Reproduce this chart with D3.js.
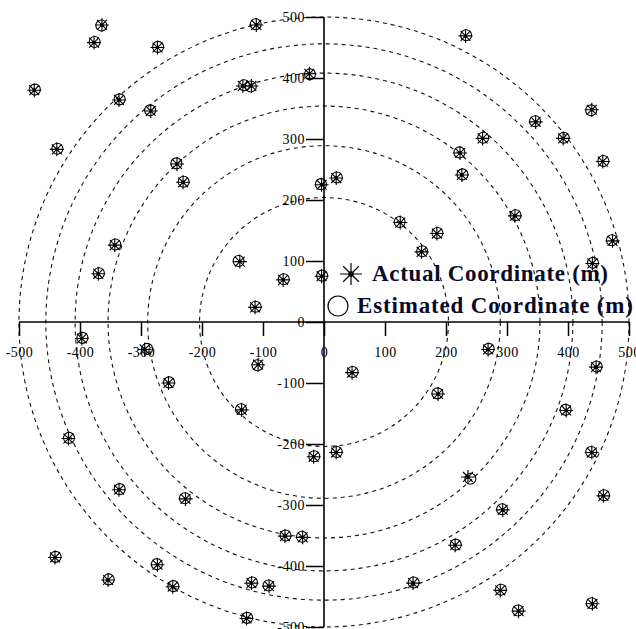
<!DOCTYPE html>
<html>
<head>
<meta charset="utf-8">
<script src="https://cdn.jsdelivr.net/npm/d3@7"></script>
<style>
  html, body { margin: 0; padding: 0; background: #fff; }
  svg { display: block; }
</style>
</head>
<body>
<svg id="chart" width="636" height="629"></svg>
<script>
// ---- data (metres) ----
const actualX = [-475,-364,-377,-273,-111,-336,-284,-438,-133,-119,-24,-241,-231,-4,-343,-370,-138,-67,-113,-4,
                 232,260,223,226,347,392,439,457,473,313,20,125,185,160,440,
                 -397,-294,-108,-255,-135,-419,-17,-336,-227,-64,-35,-441,-354,-273,-248,-119,-90,-127,
                 46,269,187,397,446,20,439,458,236,293,215,146,289,319,440];
const actualY = [380,487,458,450,487,364,346,283,387,387,407,259,229,225,126,79,99,69,24,75,
                 469,301,277,241,328,301,348,263,133,174,236,163,145,115,96,
                 -27,-45,-70,-100,-144,-191,-221,-275,-290,-351,-353,-386,-423,-398,-434,-428,-433,-486,
                 -83,-45,-118,-145,-74,-214,-214,-285,-254,-308,-366,-428,-440,-474,-462];
const estX    = [-474,-365,-376,-272,-112,-335,-285,-437,-131,-120,-23,-242,-230,-5,-342,-369,-140,-66,-112,-3,
                 233,261,222,227,346,393,438,458,472,314,21,124,186,161,441,
                 -396,-290,-109,-254,-136,-418,-16,-335,-228,-63,-36,-440,-353,-274,-247,-118,-91,-126,
                 47,270,186,396,447,21,438,459,240,292,216,147,290,318,439];
const estY    = [381,486,459,451,488,365,347,284,388,386,406,260,230,226,127,80,100,70,25,76,
                 470,302,278,242,329,302,347,264,134,175,237,164,146,116,97,
                 -26,-44,-71,-99,-143,-190,-220,-274,-289,-350,-352,-385,-422,-397,-433,-427,-432,-485,
                 -82,-44,-117,-144,-73,-213,-213,-284,-257,-307,-365,-427,-439,-473,-461];
const ringRadii = [204, 289, 354, 408, 456, 500];
const majorTicks = [-500,-400,-300,-200,-100,0,100,200,300,400,500];
const minorTicks = [-450,-350,-250,-150,-50,50,150,250,350,450];
const legendLabels = ["Actual Coordinate (m)", "Estimated Coordinate (m)"];

// ---- layout ----
const svg = d3.select("#chart");
const x = d3.scaleLinear().domain([-500, 500]).range([19, 629]);
const y = d3.scaleLinear().domain([-500, 500]).range([627, 17]);
const k = (x(100) - x(0)) / 100; // px per metre
const cx = x(0), cy = y(0);
const serif = "'Liberation Serif', 'Times New Roman', serif";

// rings
svg.append("g").selectAll("circle").data(ringRadii).join("circle")
  .attr("cx", cx).attr("cy", cy).attr("r", d => d * k)
  .attr("fill", "none").attr("stroke", "#111").attr("stroke-width", 1.1)
  .attr("stroke-dasharray", "4,4");

// x axis (ticks below)
const gx = svg.append("g").attr("transform", `translate(0,${cy})`);
gx.call(d3.axisBottom(x).tickValues(minorTicks).tickSize(9).tickFormat(""));
gx.call(d3.axisBottom(x).tickValues(majorTicks).tickSize(14).tickPadding(11)
  .tickFormat(d => d));
gx.select(".domain").attr("stroke", "#000").attr("stroke-width", 1.6).attr("d", `M${x(-500)},0H${x(500)}`);
gx.selectAll(".tick line").attr("stroke", "#000").attr("stroke-width", 1.5);
gx.selectAll(".tick text").attr("font-family", serif).attr("font-size", 14).attr("fill", "#000")
  .attr("letter-spacing", 0.5);

// y axis (ticks to left)
const gy = svg.append("g").attr("transform", `translate(${cx},0)`);
gy.call(d3.axisLeft(y).tickValues(minorTicks).tickSize(10).tickFormat(""));
gy.call(d3.axisLeft(y).tickValues(majorTicks).tickSize(18).tickPadding(1)
  .tickFormat(d => d));
gy.select(".domain").attr("stroke", "#000").attr("stroke-width", 1.6).attr("d", `M0,${y(500)}V${y(-500)}`);
gy.selectAll(".tick line").attr("stroke", "#000").attr("stroke-width", 1.5);
gy.selectAll(".tick text").attr("font-family", serif).attr("font-size", 14).attr("fill", "#000")
  .attr("letter-spacing", 0.5);

// markers
function asterisk(g, px, py, h, sw) {
  const a = h * Math.SQRT1_2;
  const p = `M${px-h},${py}H${px+h}M${px},${py-h}V${py+h}M${px-a},${py-a}L${px+a},${py+a}M${px-a},${py+a}L${px+a},${py-a}`;
  g.append("path").attr("d", p).attr("stroke", "#000").attr("stroke-width", sw).attr("fill", "none");
  g.append("circle").attr("cx", px).attr("cy", py).attr("r", Math.max(1.6, h / 4)).attr("fill", "#000");
}
const pts = svg.append("g");
actualX.forEach((vx, i) => asterisk(pts, x(vx), y(actualY[i]), 7, 1.1));
pts.selectAll("circle.est").data(estX).join("circle").attr("class", "est")
  .attr("cx", d => x(d)).attr("cy", (d, i) => y(estY[i])).attr("r", 5.5)
  .attr("fill", "none").attr("stroke", "#000").attr("stroke-width", 1.1);

// legend
const lg = svg.append("g");
asterisk(lg, 351, 274, 11, 1.2);
lg.append("circle").attr("cx", 338).attr("cy", 306).attr("r", 10)
  .attr("fill", "none").attr("stroke", "#000").attr("stroke-width", 1.2);
lg.append("text").attr("x", 372).attr("y", 281).text(legendLabels[0])
  .attr("font-family", serif).attr("font-weight", "bold").attr("font-size", 23).attr("fill", "#0a0a2a")
  .attr("textLength", 236).attr("lengthAdjust", "spacing");
lg.append("text").attr("x", 357).attr("y", 313).text(legendLabels[1])
  .attr("font-family", serif).attr("font-weight", "bold").attr("font-size", 23).attr("fill", "#0a0a2a")
  .attr("textLength", 276).attr("lengthAdjust", "spacing");
</script>
</body>
</html>
